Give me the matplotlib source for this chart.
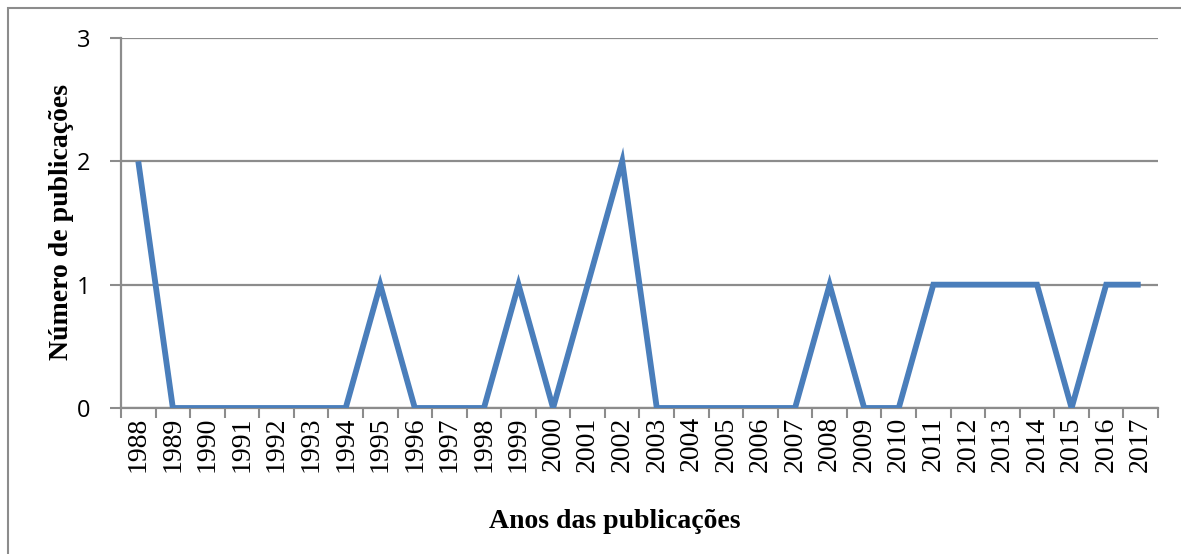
import matplotlib
matplotlib.use("Agg")
import matplotlib.pyplot as plt
from matplotlib.patches import Rectangle

years = [str(y) for y in range(1988, 2018)]
publicacoes = [2, 0, 0, 0, 0, 0, 0, 1, 0, 0, 0, 1, 0, 1, 2,
               0, 0, 0, 0, 0, 1, 0, 0, 1, 1, 1, 1, 0, 1, 1]
y_ticks = [0, 1, 2, 3]

W, H = 1181, 554
fig = plt.figure(figsize=(W / 100, H / 100), dpi=100)
fig.patch.set_facecolor("white")

# chart-area border
fig.add_artist(Rectangle((8 / W, -0.05), 1.1, 1 - 8 / H + 0.05,
                         transform=fig.transFigure, fill=False,
                         edgecolor="#8c8c8c", linewidth=1.5))

left, right, top, bottom = 121, 1158, 38, 408
ax = fig.add_axes([left / W, 1 - bottom / H, (right - left) / W, (bottom - top) / H])

x = list(range(len(years)))
ax.plot(x, publicacoes, color="#4A7EBB", linewidth=4.2, solid_joinstyle="miter",
        solid_capstyle="butt", zorder=3)

ax.set_xlim(-0.5, len(years) - 0.5)
ax.set_ylim(0, 3)
ax.set_yticks(y_ticks)
ax.set_yticklabels([str(v) for v in y_ticks], fontfamily="Open Sans", fontsize=17)
ax.set_xticks(x)
ax.set_xticklabels(years, rotation=90, fontfamily="Liberation Serif", fontsize=20)
ax.set_xticks([i - 0.5 for i in range(len(years) + 1)], minor=True)
ax.tick_params(axis="x", which="major", length=0, pad=6)
ax.tick_params(axis="x", which="minor", length=7, width=1.5, color="#8c8c8c", direction="out")
ax.tick_params(axis="y", which="major", length=8, width=1.5, color="#8c8c8c", direction="out", pad=14)

ax.grid(axis="y", color="#8c8c8c", linewidth=1.6, zorder=0)
for s in ["top", "right"]:
    ax.spines[s].set_visible(False)
for s in ["left", "bottom"]:
    ax.spines[s].set_color("#8c8c8c")
    ax.spines[s].set_linewidth(1.6)

fig.text(62 / W, 1 - 222 / H, "Número de publicações", rotation=90, ha="center", va="center",
         fontfamily="Liberation Serif", fontweight="bold", fontsize=20)
fig.text(615 / W, 1 - 521 / H, "Anos das publicações", ha="center", va="center",
         fontfamily="Liberation Serif", fontweight="bold", fontsize=20)

fig.savefig("out.png", dpi=100)
